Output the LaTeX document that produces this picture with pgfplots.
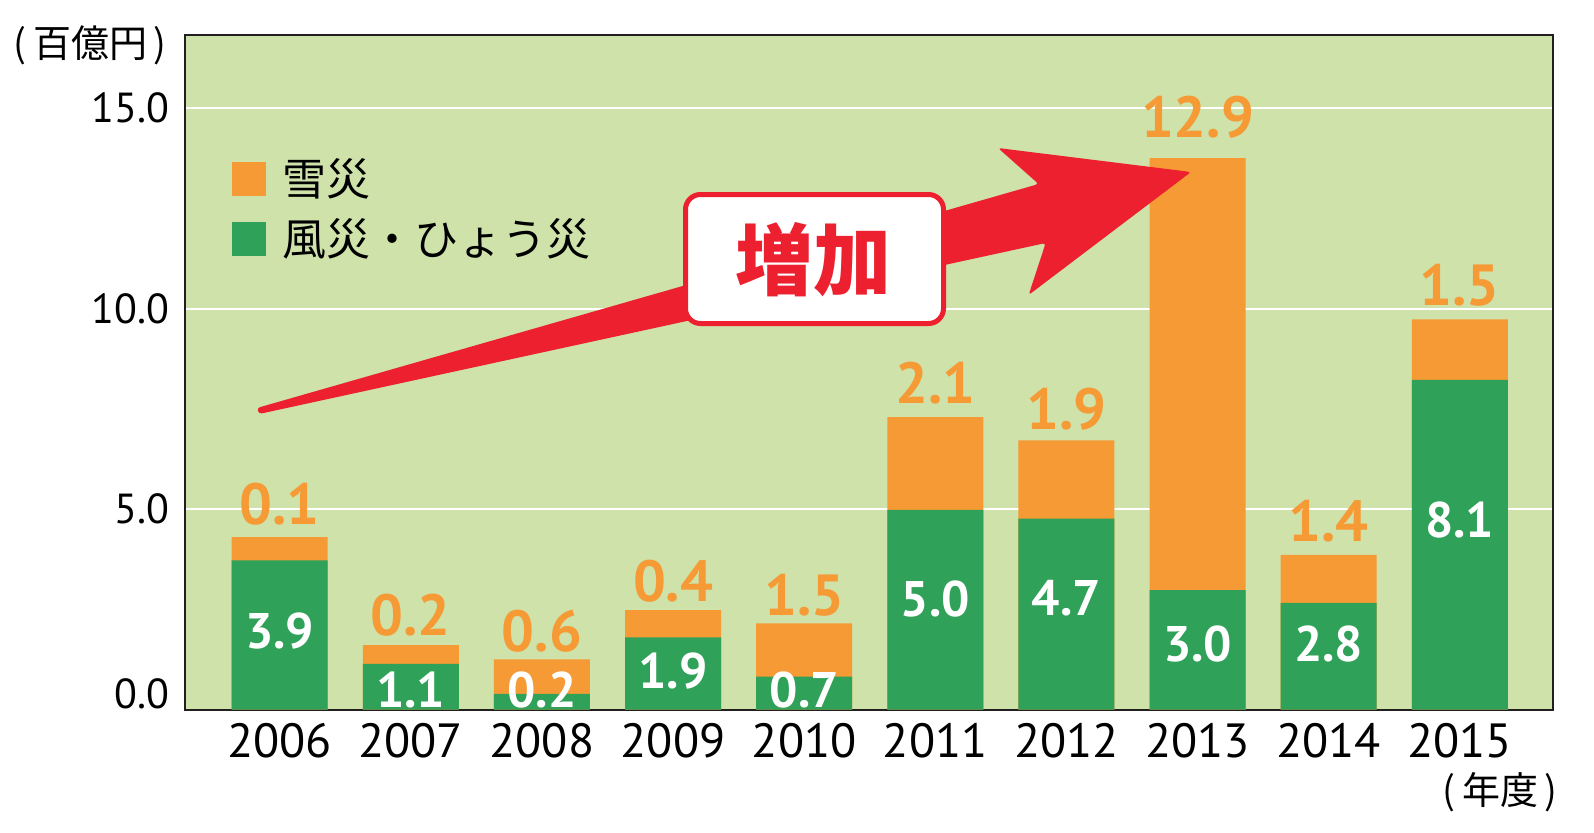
\documentclass[border=0pt]{standalone}
\usepackage{pgfplots}
\usepackage{pgfplotstable}
\pgfplotsset{compat=1.18}
\usepackage{fontspec}
\setmainfont{PT Sans}
\newfontfamily\cjk{Noto Sans CJK JP}
\definecolor{bgc}{RGB}{206,226,170}
\definecolor{orangec}{RGB}{246,154,53}
\definecolor{greenc}{RGB}{47,161,88}
\definecolor{redc}{RGB}{236,32,46}
\definecolor{axisc}{RGB}{35,31,32}

\pgfplotstableread{
x green total gl ol gy oy
0 3.72 4.30 3.9 0.1 1.96 5.13
1 1.14 1.61 1.1 0.2 0.49 2.36
2 0.39 1.25 0.2 0.6 0.49 1.96
3 1.80 2.48 1.9 0.4 0.97 3.20
4 0.82 2.15 0.7 1.5 0.49 2.84
5 4.98 7.29 5.0 2.1 2.75 8.13
6 4.76 6.71 4.7 1.9 2.78 7.48
7 2.98 13.75 3.0 12.9 1.63 14.78
8 2.66 3.86 2.8 1.4 1.63 4.69
9 8.22 9.73 8.1 1.5 4.73 10.59
}\datatable

\begin{document}
\begin{tikzpicture}
\begin{axis}[
  at={(0,0)}, anchor=south west,
  scale only axis, width=684pt, height=337.3pt,
  xmin=-0.7222, xmax=9.711, ymin=0, ymax=16.82,
  axis background/.style={fill=bgc},
  axis line style={draw=axisc, line width=1pt},
  xtick={0,1,2,3,4,5,6,7,8,9},
  xticklabels={2006,2007,2008,2009,2010,2011,2012,2013,2014,2015},
  ytick={0,5,10,15},
  yticklabels={\raisebox{15.6pt}{0.0},5.0,10.0,15.0},
  major tick length=0pt,
  ymajorgrids, grid style={white, line width=1pt},
  /pgf/number format/assume math mode=true,
  xticklabel style={font=\fontsize{24}{24}\selectfont, inner sep=0pt, yshift=-6.7pt, text=black},
  yticklabel style={font=\fontsize{21}{21}\selectfont, inner sep=0pt, xshift=-7.5pt, text=black},
  ylabel={(\,百億円\,)},
  every axis y label/.style={at={(axis description cs:-0.0694,0.985)}, anchor=center, font=\cjk\fontsize{19}{19}\selectfont},
  xlabel={(\,年度\,)},
  every axis x label/.style={at={(axis description cs:0.9613,-0.1221)}, anchor=center, font=\cjk\fontsize{19}{19}\selectfont},
  legend style={at={(axis description cs:0.0344,0.817)}, anchor=north west, draw=none, fill=none,
    inner sep=0pt, font=\cjk\fontsize{22}{22}\selectfont, row sep=10pt, column sep=8pt,
    nodes={inner sep=0pt}, cells={anchor=west}},
  legend cell align=left,
]
\addplot[ybar, bar shift=0pt, bar width=48pt, fill=orangec, draw=none,
  legend image code/.code={\fill[orangec, overlay] (0pt,-8.5pt) rectangle (17pt,8.5pt); \path (0pt,0pt) rectangle (17pt,0pt);}]
  table[x=x, y=total] {\datatable};
\addlegendentry{雪災}
\addplot[ybar, bar shift=0pt, bar width=48pt, fill=greenc, draw=none,
  legend image code/.code={\fill[greenc, overlay] (0pt,-8.5pt) rectangle (17pt,8.5pt); \path (0pt,0pt) rectangle (17pt,0pt);}]
  table[x=x, y=green] {\datatable};
\addlegendentry{風災・ひょう災}
\addplot[draw=none, mark=none, forget plot, nodes near coords, point meta=explicit symbolic,
  nodes near coords style={anchor=center, text=white, inner sep=0pt, font=\bfseries\fontsize{25}{25}\selectfont}]
  table[x=x, y=gy, meta=gl] {\datatable};
\addplot[draw=none, mark=none, forget plot, nodes near coords, point meta=explicit symbolic,
  nodes near coords style={anchor=center, text=orangec, inner sep=0pt, font=\bfseries\fontsize{29}{29}\selectfont}]
  table[x=x, y=oy, meta=ol] {\datatable};
\end{axis}
\begin{scope}[x=0.5pt, y=-0.5pt, shift={(-92.5pt,354.8pt)}]
  \useasboundingbox (0,0) rectangle (1594,832);
  \fill[redc, rounded corners=1.5pt] (257,408) -- (1038.6,184) -- (998,148) -- (1191,172) -- (1028.6,295) -- (1045.7,243) -- (259,414) -- cycle;
  \draw[redc, fill=white, line width=2.5pt, rounded corners=7.5pt] (685.5,194.5) rectangle (943.5,323.5);
  \node[text=redc, font=\cjk\bfseries\fontsize{39}{39}\selectfont, inner sep=0pt] at (813,259.5) {増加};
\end{scope}
\end{tikzpicture}
\end{document}
